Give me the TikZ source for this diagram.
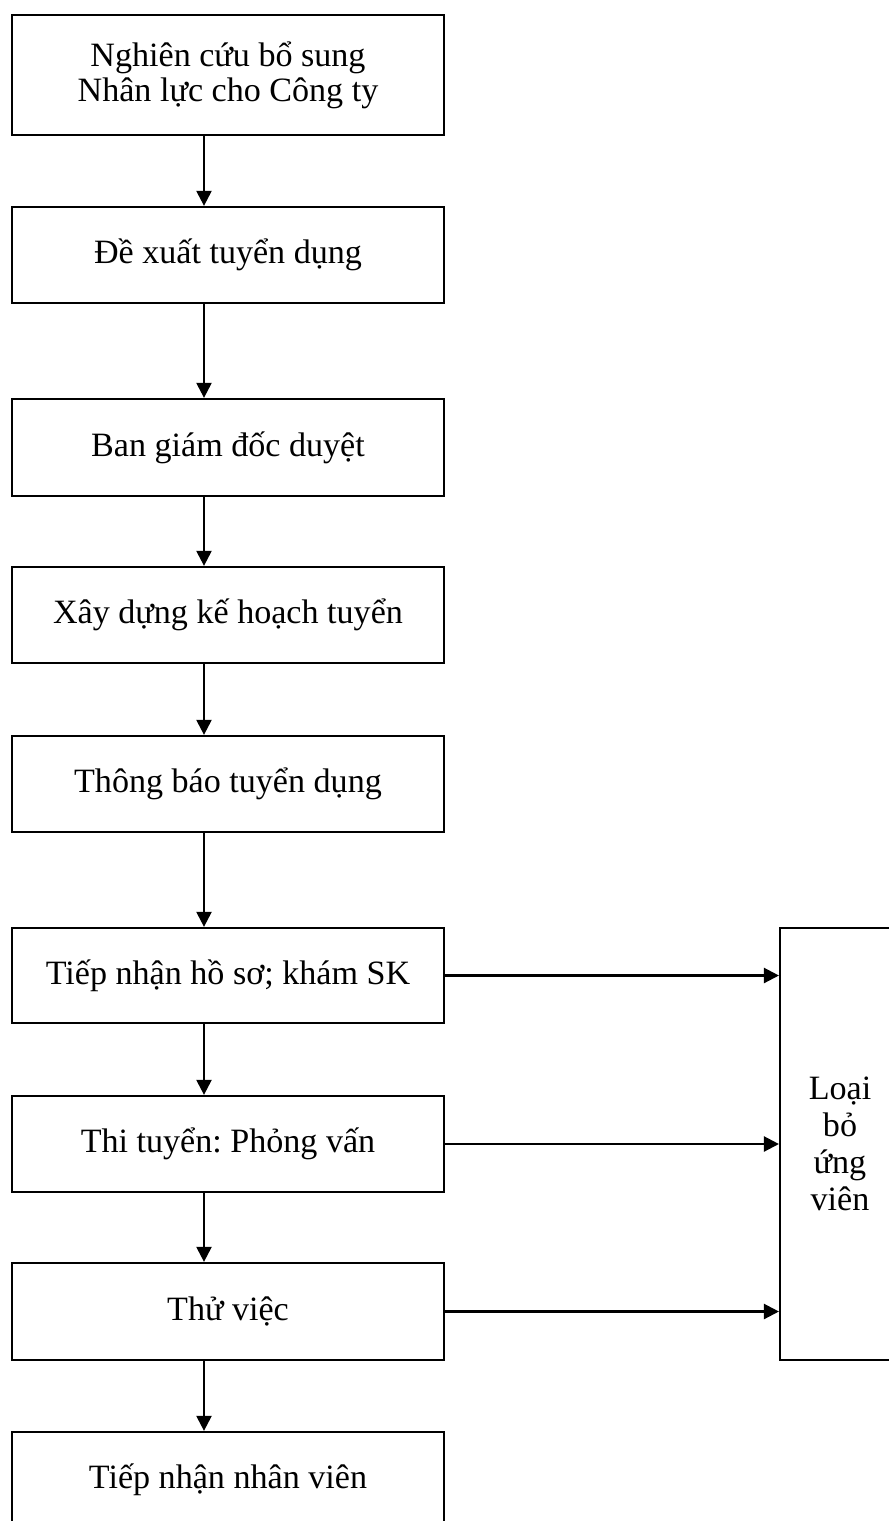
\documentclass[tikz,border=0pt]{standalone}
\usepackage{fontspec}
\setmainfont{Liberation Serif}
\usetikzlibrary{arrows.meta}
\frenchspacing

\begin{document}
\begin{tikzpicture}[>={Triangle[length=0.3cm,width=0.3cm]},
  font=\fontsize{19.4pt}{20pt}\selectfont,
  stepbox/.style={draw, line width=1.3pt, minimum width=8.64cm, inner sep=0pt, align=center},
  rejectbox/.style={draw, line width=1.2pt, minimum width=2.4cm, minimum height=8.64cm, inner sep=0pt, align=center,
    font=\fontsize{19.4pt}{21pt}\selectfont},
  flow/.style={->, line width=1.3pt}]

\useasboundingbox (0,0) rectangle (17.78,-30.42);

% Main steps
\node[stepbox, minimum height=2.4cm]  (research) at (4.56,-1.5)   {Nghiên cứu bổ sung\\Nhân lực cho Công ty};
\node[stepbox, minimum height=1.92cm] (propose)  at (4.56,-5.1)   {Đề xuất tuyển dụng};
\node[stepbox, minimum height=1.94cm] (approve)  at (4.56,-8.95)  {Ban giám đốc duyệt};
\node[stepbox, minimum height=1.92cm] (plan)     at (4.56,-12.3)  {Xây dựng kế hoạch tuyển};
\node[stepbox, minimum height=1.92cm] (announce) at (4.56,-15.68) {Thông báo tuyển dụng};
\node[stepbox, minimum height=1.9cm]  (receive)  at (4.56,-19.51) {Tiếp nhận hồ sơ; khám SK};
\node[stepbox, minimum height=1.92cm] (exam)     at (4.56,-22.88) {Thi tuyển: Phỏng vấn};
\node[stepbox, minimum height=1.94cm] (trial)    at (4.56,-26.23) {Thử việc};
\node[stepbox, minimum height=1.92cm] (hire)     at (4.56,-29.6)  {Tiếp nhận nhân viên};

% Reject box on the right
\node[rejectbox] (reject) at (16.8,-22.88) {Loại\\bỏ\\ứng\\viên};

% Vertical arrows (slightly left of the box centres)
\coordinate (spine) at (4.08,0);
\draw[flow] (research.south -| spine) -- (propose.north -| spine);
\draw[flow] (propose.south -| spine)  -- (approve.north -| spine);
\draw[flow] (approve.south -| spine)  -- (plan.north -| spine);
\draw[flow] (plan.south -| spine)     -- (announce.north -| spine);
\draw[flow] (announce.south -| spine) -- (receive.north -| spine);
\draw[flow] (receive.south -| spine)  -- (exam.north -| spine);
\draw[flow] (exam.south -| spine)     -- (trial.north -| spine);
\draw[flow] (trial.south -| spine)    -- (hire.north -| spine);

% Rejection arrows
\draw[flow] (receive.east) -- (receive.east -| reject.west);
\draw[flow] (exam.east)    -- (exam.east -| reject.west);
\draw[flow] (trial.east)   -- (trial.east -| reject.west);

\end{tikzpicture}
\end{document}
